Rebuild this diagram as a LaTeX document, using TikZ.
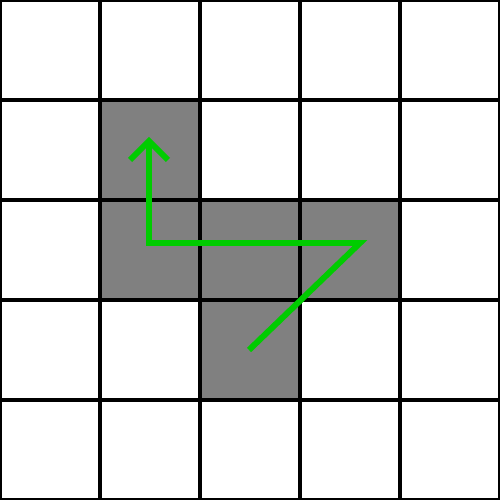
\documentclass[tikz,border=0pt]{standalone}
\usetikzlibrary{arrows.meta}
\definecolor{pathgreen}{HTML}{00CC00}
\definecolor{cellgray}{HTML}{808080}
\begin{document}
\begin{tikzpicture}[x=1cm,y=1cm,
  cell/.style={fill=cellgray},
  gridline/.style={line width=1pt,black},
  route/.style={line width=1.7pt,pathgreen,line join=miter}]
\useasboundingbox (0,0) rectangle (5,5);
\fill[white] (0,0) rectangle (5,5);
\fill[cell] (1,3) rectangle (2,4);
\fill[cell] (1,2) rectangle (4,3);
\fill[cell] (2,1) rectangle (3,2);
\draw[gridline] (0,0) grid (5,5);
\coordinate (s) at (2.49,1.50);
\coordinate (c1) at (3.60,2.57);
\coordinate (c2) at (1.49,2.57);
\coordinate (t) at (1.49,3.59);
\coordinate (wl) at (1.30,3.40);
\coordinate (wr) at (1.68,3.40);
\draw[route] (s) -- (c1) -- (c2) -- (t);
\draw[route] (wl) -- (t) -- (wr);
\end{tikzpicture}
\end{document}
